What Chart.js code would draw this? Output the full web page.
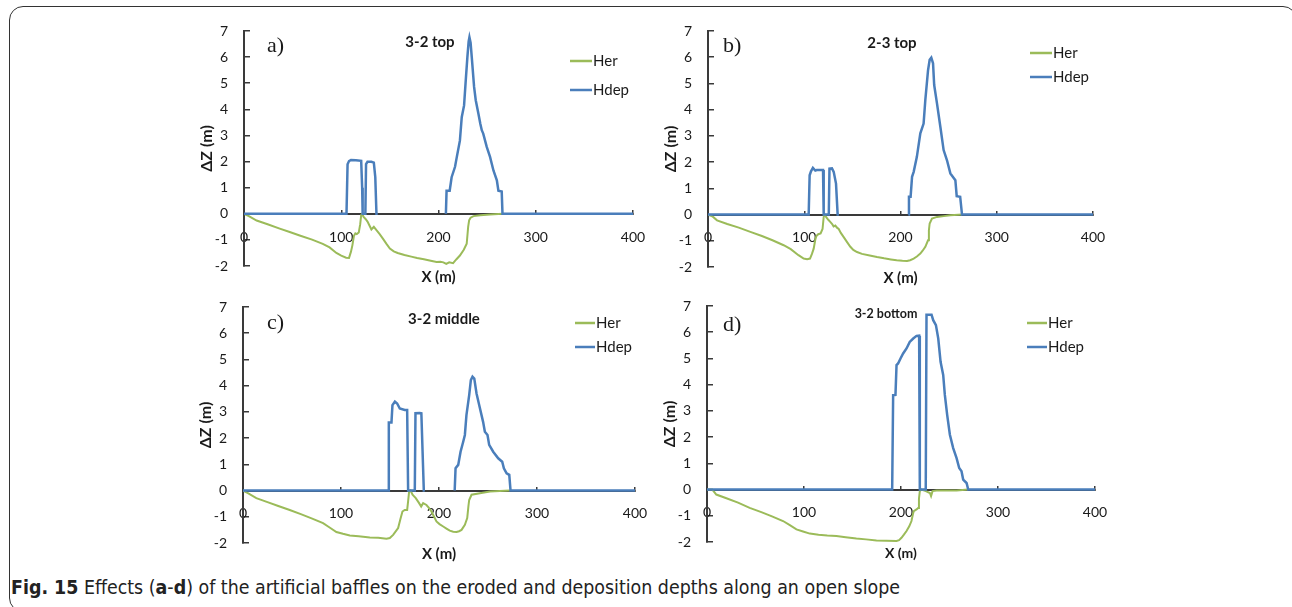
<!DOCTYPE html>
<html>
<head>
<meta charset="utf-8">
<title>Baffle effects on eroded and deposition depths</title>
<script src="https://cdn.jsdelivr.net/npm/chart.js@4.4.1/dist/chart.umd.min.js"></script>
<style>
  html, body { margin: 0; padding: 0; background: #fff; }
  body { width: 1292px; height: 607px; position: relative; overflow: hidden; font-family: Lato, sans-serif; color: #1a1a1a; }
  .frame { position: absolute; left: 9px; top: 6px; width: 1288px; height: 606px; border: 1.5px solid #333; border-radius: 14px; box-sizing: border-box; }
  .panel { position: absolute; display: block; }
  .tag { position: absolute; font-family: "Liberation Serif", serif; font-size: 22px; line-height: 1; transform: translateY(-50%); }
  .ttl { position: absolute; font-weight: bold; font-size: 15px; line-height: 1; white-space: nowrap; transform: translate(-50%, -50%); }
  .caption { position: absolute; left: 11px; top: 578px; font-family: "Liberation Sans Narrow", "DejaVu Sans Condensed", sans-serif; font-size: 19.4px; line-height: 1; white-space: nowrap; color: #222; }
</style>
</head>
<body>
<div class="frame"></div>

<canvas id="panel-a" class="panel" width="475" height="280" style="left:180px;top:16px"></canvas>
<canvas id="panel-b" class="panel" width="471" height="281" style="left:644px;top:16px"></canvas>
<canvas id="panel-c" class="panel" width="478" height="281" style="left:179px;top:292px"></canvas>
<canvas id="panel-d" class="panel" width="474" height="281" style="left:643px;top:291px"></canvas>

<div class="tag" style="left:267px;top:45px">a)</div>
<div class="tag" style="left:723px;top:45px">b)</div>
<div class="tag" style="left:267px;top:322px">c)</div>
<div class="tag" style="left:723px;top:324px">d)</div>

<div class="ttl" style="left:430px;top:41px">3-2 top</div>
<div class="ttl" style="left:892px;top:42px">2-3 top</div>
<div class="ttl" style="left:444px;top:318px">3-2 middle</div>
<div class="ttl" style="left:886px;top:314px;font-size:12.5px">3-2 bottom</div>

<div class="caption"><b>Fig. 15</b> Effects (<b>a</b>-<b>d</b>) of the artificial baffles on the eroded and deposition depths along an open slope</div>

<script>
// axis ranges shared by all four panels
const xTicks = [0, 100, 200, 300, 400];
const yTicks = [-2, -1, 0, 1, 2, 3, 4, 5, 6, 7];

// a) 3-2 top
const aHerX = [0, 5, 13, 25, 36, 47, 58, 70, 81, 88, 95, 100, 105, 108, 110, 111.5, 113, 114.5, 116, 118, 119.5, 120.5, 121.5, 123, 125, 127, 129, 131, 133.5, 136, 139.5, 143, 146.5, 150, 154, 158, 165, 172, 178, 185, 192, 198, 202, 205, 208, 211, 215, 218.5, 222, 226, 229, 230.5, 231.5, 233, 236, 243, 253, 266];
const aHerY = [0, -0.09, -0.26, -0.41, -0.56, -0.7, -0.84, -0.99, -1.15, -1.29, -1.5, -1.6, -1.68, -1.69, -1.45, -1.2, -0.85, -0.75, -0.78, -0.72, -0.4, -0.05, 0, -0.12, -0.2, -0.3, -0.45, -0.6, -0.5, -0.62, -0.78, -0.96, -1.15, -1.33, -1.44, -1.5, -1.58, -1.64, -1.69, -1.74, -1.8, -1.85, -1.84, -1.86, -1.92, -1.86, -1.89, -1.74, -1.6, -1.38, -1.15, -0.5, -0.25, -0.15, -0.09, -0.06, -0.03, 0];
const aDepX = [0, 105.4, 106.5, 108, 110, 115, 120.5, 121.5, 122, 124.8, 125.5, 127, 131, 133.5, 135, 136.2, 137.5, 170, 207.6, 208.3, 211.5, 213.5, 217, 218.7, 222, 223.9, 226.3, 228, 229.7, 231, 231.8, 233, 234.2, 236.6, 238.3, 241, 243, 244.5, 246, 249.6, 253, 256.5, 260, 261.6, 265, 265.8, 400];
const aDepY = [0, 0, 1.9, 2.02, 2.06, 2.05, 2.03, 1.0, 0, 0, 1.9, 1.99, 1.99, 1.96, 1.4, 0, 0, null, 0, 0.88, 0.88, 1.4, 1.8, 2.15, 2.8, 3.7, 4.15, 5.1, 6.0, 6.6, 6.76, 6.55, 6.0, 4.86, 4.35, 3.84, 3.45, 3.2, 3.07, 2.56, 2.18, 1.66, 1.28, 0.88, 0.85, 0, 0];

// b) 2-3 top
const bHerX = [0, 5, 9.4, 20, 32, 44, 56, 67, 78.6, 86, 94, 99.4, 103, 106, 108, 109.8, 111.5, 112.6, 114.5, 117, 119, 120.2, 121.2, 123, 125, 127, 129, 130.5, 132.3, 134, 135.8, 138, 141, 144.5, 147.9, 151, 154.8, 160, 168, 175.6, 183, 190, 196, 202, 206.8, 210, 213.7, 217, 220.6, 223, 225.8, 228.6, 229.5, 230.3, 232.7, 238, 245, 251.8, 264];
const bHerY = [0, -0.08, -0.22, -0.36, -0.5, -0.66, -0.82, -0.98, -1.17, -1.32, -1.55, -1.68, -1.7, -1.68, -1.5, -1.3, -0.95, -0.82, -0.75, -0.72, -0.55, -0.09, 0, -0.11, -0.2, -0.28, -0.36, -0.45, -0.42, -0.5, -0.55, -0.7, -0.86, -1.05, -1.23, -1.35, -1.43, -1.5, -1.56, -1.62, -1.67, -1.71, -1.74, -1.76, -1.77, -1.74, -1.68, -1.6, -1.49, -1.38, -1.23, -0.98, -0.6, -0.34, -0.15, -0.09, -0.06, -0.03, 0];
const bDepX = [0, 104.6, 105.6, 107, 109, 111.5, 113, 119.5, 120.2, 125.5, 126.2, 128.8, 130.6, 133, 134.7, 136, 170, 208.2, 208.8, 210.5, 212, 213.7, 217, 220.6, 224, 225.8, 228.6, 230.3, 232, 233.8, 235, 237.9, 241.4, 244.8, 248.3, 251.8, 257, 258.4, 262, 263.9, 400];
const bDepY = [0, 0, 1.5, 1.65, 1.78, 1.68, 1.7, 1.7, 0, 0, 1.75, 1.76, 1.63, 1.18, 0, 0, null, 0, 0.68, 0.68, 1.44, 1.63, 2.2, 3.1, 3.47, 4.37, 5.5, 5.9, 5.98, 5.77, 4.94, 4.24, 3.35, 2.46, 2.07, 1.57, 1.31, 0.7, 0.68, 0, 0];

// c) 3-2 middle
const cHerX = [0, 5, 13.6, 25, 36, 47.7, 59, 70, 81.7, 88, 95.3, 102, 109, 118, 129.4, 138, 146.4, 149.8, 153.2, 156, 158.3, 160.5, 162.7, 165, 167.5, 168.5, 169.5, 171, 173, 176.3, 179.7, 181.8, 183.8, 187.2, 189.5, 192.3, 195, 197.4, 200.5, 204.3, 208, 211, 214.5, 217.9, 220.5, 223, 226.4, 228.8, 230, 230.8, 233.2, 241.7, 252, 262, 272.3];
const cHerY = [0, -0.1, -0.29, -0.44, -0.59, -0.74, -0.9, -1.06, -1.24, -1.4, -1.58, -1.65, -1.71, -1.74, -1.79, -1.8, -1.84, -1.81, -1.69, -1.55, -1.43, -1.1, -0.8, -0.74, -0.74, -0.4, -0.04, 0, -0.16, -0.29, -0.48, -0.61, -0.48, -0.55, -0.65, -0.8, -1.0, -1.18, -1.28, -1.37, -1.46, -1.53, -1.57, -1.58, -1.55, -1.5, -1.31, -1.05, -0.6, -0.36, -0.16, -0.1, -0.04, -0.02, 0];
const cDepX = [0, 148, 148.8, 151.5, 152.5, 155, 157.3, 160, 165, 167.5, 168.5, 175.3, 176, 180.4, 182, 184.5, 185.5, 200, 216, 216.9, 219.6, 222, 224.7, 226.4, 228, 230.8, 232.5, 234.2, 236, 238.3, 241, 245, 246.8, 249.5, 251.2, 255.3, 260.4, 264.5, 266.2, 269, 271.7, 273, 400];
const cDepY = [0, 0, 2.6, 2.6, 3.26, 3.39, 3.32, 3.13, 3.07, 3.07, 0, 0, 2.95, 2.96, 2.95, 0, 0, null, 0, 0.85, 0.98, 1.48, 1.86, 2.12, 2.88, 3.64, 4.21, 4.34, 4.27, 3.7, 3.26, 2.62, 2.24, 2.12, 1.74, 1.48, 1.23, 1.1, 0.85, 0.66, 0.6, 0, 0];

// d) 3-2 bottom
const dHerX = [0, 5.5, 9.6, 20, 32, 44, 56, 67, 78.4, 85, 92.2, 99, 106, 115, 124, 133.4, 143, 154, 164, 174.7, 185, 195.4, 198, 200.5, 203, 205.7, 208.5, 210.8, 212.2, 213.2, 216, 217.7, 218.5, 219.4, 221, 225.6, 229.8, 231, 232.5, 236.6, 257.3, 269.3];
const dHerY = [0, 0, -0.19, -0.33, -0.5, -0.7, -0.86, -1.02, -1.2, -1.35, -1.52, -1.6, -1.68, -1.72, -1.75, -1.77, -1.82, -1.87, -1.9, -1.94, -1.95, -1.96, -1.93, -1.84, -1.72, -1.58, -1.4, -1.2, -0.95, -0.82, -0.76, -0.7, -0.35, -0.06, 0, -0.06, -0.13, -0.25, -0.06, -0.04, -0.04, 0];
const dDepX = [0, 190.9, 191.9, 194.3, 195.4, 197, 199.5, 202.2, 205.7, 209, 212.6, 216, 218.7, 219.4, 225.5, 226.3, 231.5, 233.2, 236, 238.4, 240.8, 243.5, 245.2, 247.6, 250.4, 253.8, 257.3, 260, 262.4, 264.1, 267.6, 269.3, 400];
const dDepY = [0, 0, 3.6, 3.61, 4.75, 4.81, 5.0, 5.19, 5.38, 5.63, 5.76, 5.86, 5.87, 0, 0, 6.67, 6.67, 6.46, 6.27, 5.76, 4.87, 4.37, 3.61, 2.85, 2.09, 1.58, 1.2, 0.82, 0.7, 0.38, 0.25, 0, 0];

const HER_COLOR = '#9bbb59';
const DEP_COLOR = '#4a7ebb';
const AXIS_COLOR = '#3a3a3a';
const TEXT_COLOR = '#1a1a1a';

function toPoints(xs, ys) {
  return xs.map((x, i) => ({ x: x, y: ys[i] }));
}

// small legend drawn inside the plot area, top right
const insideLegend = {
  id: 'insideLegend',
  afterDraw(chart, args, opts) {
    const ctx = chart.ctx;
    ctx.save();
    ctx.font = '15px Lato, sans-serif';
    ctx.textBaseline = 'middle';
    ctx.textAlign = 'left';
    chart.data.datasets.forEach((ds, i) => {
      const y = opts.y + i * opts.gap;
      ctx.strokeStyle = ds.borderColor;
      ctx.lineWidth = 2.5;
      ctx.beginPath();
      ctx.moveTo(opts.x, y);
      ctx.lineTo(opts.x + opts.len, y);
      ctx.stroke();
      ctx.fillStyle = TEXT_COLOR;
      ctx.fillText(ds.label, opts.x + opts.len + 1, y);
    });
    ctx.restore();
  }
};

function makePanel(id, herX, herY, depX, depY, legend, small) {
  const tickFont = { family: 'Lato', size: 14 };
  const xTitleFont = { family: 'Lato', size: small ? 14 : 15, weight: 'bold' };
  const yTitleFont = { family: 'Lato', size: 16, weight: 'bold' };

  return new Chart(document.getElementById(id), {
    type: 'line',
    data: {
      datasets: [
        {
          label: 'Her',
          data: toPoints(herX, herY),
          borderColor: HER_COLOR,
          borderWidth: 2,
          pointRadius: 0,
          tension: 0,
          order: 1
        },
        {
          label: 'Hdep',
          data: toPoints(depX, depY),
          borderColor: DEP_COLOR,
          borderWidth: 2.5,
          pointRadius: 0,
          tension: 0,
          spanGaps: false,
          order: 0
        }
      ]
    },
    options: {
      responsive: false,
      animation: false,
      layout: { padding: { top: 15, right: 22, bottom: 10, left: 0 } },
      plugins: {
        legend: { display: false },
        tooltip: { enabled: false },
        insideLegend: legend
      },
      scales: {
        x: {
          type: 'linear',
          position: { y: 0 },
          min: xTicks[0],
          max: xTicks[xTicks.length - 1],
          afterBuildTicks: (s) => { s.ticks = xTicks.map(v => ({ value: v })); },
          ticks: { padding: 20, font: tickFont, color: TEXT_COLOR, maxRotation: 0 },
          grid: { drawOnChartArea: false, tickLength: -5, color: AXIS_COLOR, lineWidth: 1.5 },
          border: { color: AXIS_COLOR, width: 2 },
          // label overhang is covered by the layout padding
          afterFit: (s) => { s.paddingLeft = 0; s.paddingRight = 0; }
        },
        xTitle: {
          type: 'linear',
          position: 'bottom',
          min: xTicks[0],
          max: xTicks[xTicks.length - 1],
          ticks: { display: false },
          grid: { display: false, drawTicks: false },
          border: { display: false },
          title: { display: true, text: 'X (m)', font: xTitleFont, color: TEXT_COLOR, padding: 0 },
          afterFit: (s) => { s.height = 20; s.paddingLeft = 0; s.paddingRight = 0; }
        },
        y: {
          type: 'linear',
          position: 'left',
          min: yTicks[0],
          max: yTicks[yTicks.length - 1],
          afterBuildTicks: (s) => { s.ticks = yTicks.map(v => ({ value: v })); },
          ticks: { padding: 22, font: tickFont, color: TEXT_COLOR },
          grid: { drawOnChartArea: false, tickLength: -6, color: AXIS_COLOR, lineWidth: 1.5 },
          border: { color: AXIS_COLOR, width: 2 },
          title: { display: true, text: 'ΔZ (m)', font: yTitleFont, color: TEXT_COLOR, padding: { top: 17, bottom: 0 } },
          afterFit: (s) => { s.width = 64; s.paddingTop = 0; s.paddingBottom = 0; }
        }
      }
    },
    plugins: [insideLegend]
  });
}

makePanel('panel-a', aHerX, aHerY, aDepX, aDepY, { x: 390, y: 45, gap: 29, len: 22 }, false);
makePanel('panel-b', bHerX, bHerY, bDepX, bDepY, { x: 386, y: 37, gap: 24, len: 22 }, false);
makePanel('panel-c', cHerX, cHerY, cDepX, cDepY, { x: 396, y: 31, gap: 24, len: 20 }, false);
makePanel('panel-d', dHerX, dHerY, dDepX, dDepY, { x: 384, y: 32, gap: 24, len: 20 }, true);
</script>
</body>
</html>
